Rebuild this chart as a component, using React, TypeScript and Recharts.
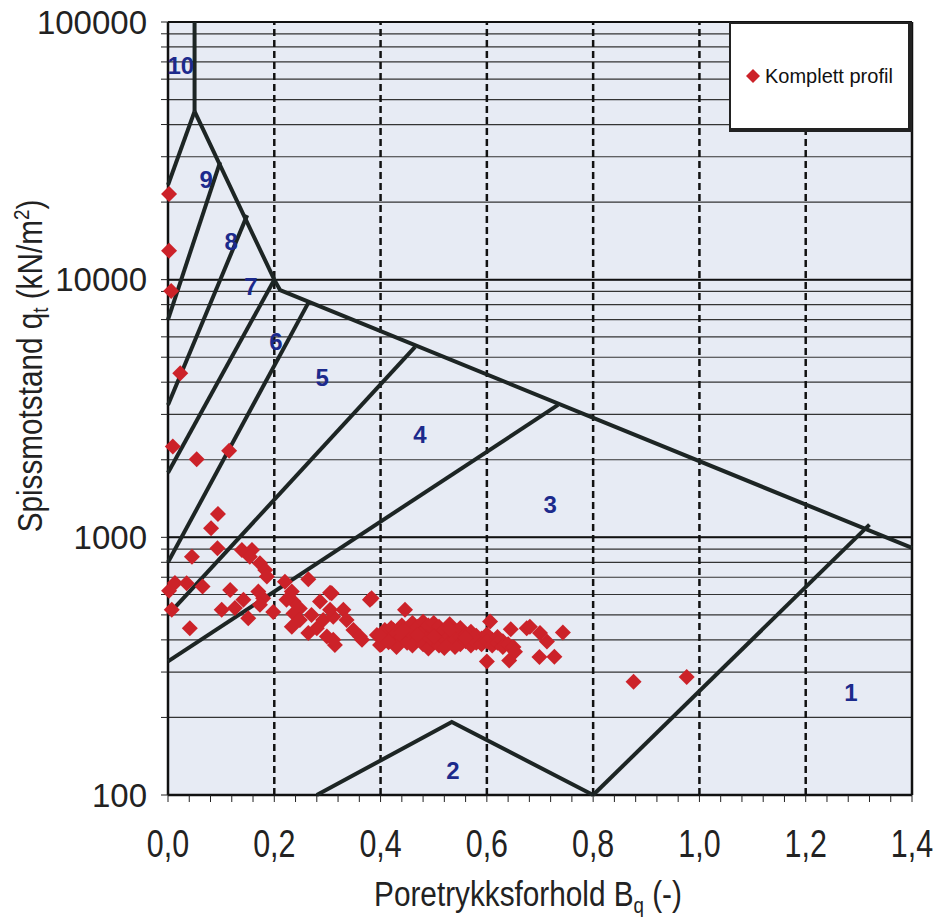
import { ScatterChart, Scatter, XAxis, YAxis, CartesianGrid, ReferenceLine } from "recharts"

// axis ticks
const xTicks = [
  0, 0.04, 0.08, 0.12, 0.16, 0.2, 0.24, 0.28, 0.32, 0.36, 0.4, 0.44, 0.48, 0.52, 0.56, 0.6, 0.64, 0.68,
  0.72, 0.76, 0.8, 0.84, 0.88, 0.92, 0.96, 1.0, 1.04, 1.08, 1.12, 1.16, 1.2, 1.24, 1.28, 1.32, 1.36, 1.4,
]
const xLabelTicks = [0, 0.2, 0.4, 0.6, 0.8, 1.0, 1.2, 1.4]
const xDashed = [0.2, 0.4, 0.6, 0.8, 1.0, 1.2]
const yDecades = [100, 1000, 10000, 100000]
const yMinor = [
  200, 300, 400, 500, 600, 700, 800, 900,
  2000, 3000, 4000, 5000, 6000, 7000, 8000, 9000,
  20000, 30000, 40000, 50000, 60000, 70000, 80000, 90000,
]
const yTicks = [...yDecades, ...yMinor].sort((a, b) => a - b)

// measured points (Bq, qt)
const upperPoints = [
  { x: 0.002, y: 21500 }, { x: 0.002, y: 12960 }, { x: 0.006, y: 9040 }, { x: 0.023, y: 4330 },
  { x: 0.009, y: 2250 }, { x: 0.054, y: 2010 }, { x: 0.115, y: 2170 }, { x: 0.094, y: 1233 },
  { x: 0.081, y: 1085 }, { x: 0.093, y: 907 }, { x: 0.045, y: 841 },
]
const transitionPoints = [
  { x: 0.002, y: 620 }, { x: 0.013, y: 665 }, { x: 0.035, y: 664 }, { x: 0.065, y: 644 },
  { x: 0.007, y: 523 }, { x: 0.041, y: 444 }, { x: 0.117, y: 625 }, { x: 0.101, y: 523 },
  { x: 0.126, y: 532 }, { x: 0.142, y: 572 }, { x: 0.151, y: 485 }, { x: 0.139, y: 893 },
  { x: 0.158, y: 893 }, { x: 0.154, y: 841 }, { x: 0.173, y: 793 }, { x: 0.183, y: 747 },
  { x: 0.186, y: 704 }, { x: 0.17, y: 616 }, { x: 0.179, y: 580 }, { x: 0.173, y: 547 },
  { x: 0.198, y: 513 }, { x: 0.22, y: 673 }, { x: 0.264, y: 688 }, { x: 0.305, y: 610 },
  { x: 0.233, y: 616 }, { x: 0.236, y: 563 }, { x: 0.223, y: 572 }, { x: 0.248, y: 530 },
  { x: 0.286, y: 563 }, { x: 0.236, y: 506 }, { x: 0.248, y: 478 }, { x: 0.233, y: 450 },
  { x: 0.264, y: 425 }, { x: 0.28, y: 444 }, { x: 0.292, y: 478 }, { x: 0.311, y: 492 },
  { x: 0.33, y: 523 }, { x: 0.299, y: 412 }, { x: 0.314, y: 382 }, { x: 0.336, y: 478 },
  { x: 0.349, y: 437 }, { x: 0.27, y: 500 }, { x: 0.305, y: 523 }, { x: 0.308, y: 607 },
  { x: 0.38, y: 572 }, { x: 0.383, y: 580 }, { x: 0.446, y: 523 }, { x: 0.311, y: 400 },
  { x: 0.365, y: 400 }, { x: 0.402, y: 385 }, { x: 0.418, y: 412 }, { x: 0.361, y: 412 },
  { x: 0.393, y: 418 }, { x: 0.399, y: 382 }, { x: 0.424, y: 437 }, { x: 0.408, y: 437 },
]
const clusterPoints = [
  { x: 0.41, y: 430 }, { x: 0.42, y: 410 }, { x: 0.42, y: 445 }, { x: 0.43, y: 395 },
  { x: 0.43, y: 425 }, { x: 0.44, y: 455 }, { x: 0.44, y: 410 }, { x: 0.45, y: 390 },
  { x: 0.45, y: 440 }, { x: 0.46, y: 465 }, { x: 0.46, y: 420 }, { x: 0.46, y: 380 },
  { x: 0.47, y: 400 }, { x: 0.47, y: 450 }, { x: 0.48, y: 470 }, { x: 0.48, y: 430 },
  { x: 0.48, y: 385 }, { x: 0.49, y: 410 }, { x: 0.49, y: 455 }, { x: 0.49, y: 370 },
  { x: 0.5, y: 440 }, { x: 0.5, y: 395 }, { x: 0.5, y: 465 }, { x: 0.51, y: 420 },
  { x: 0.51, y: 380 }, { x: 0.51, y: 450 }, { x: 0.52, y: 405 }, { x: 0.52, y: 435 },
  { x: 0.52, y: 372 }, { x: 0.53, y: 460 }, { x: 0.53, y: 415 }, { x: 0.53, y: 390 },
  { x: 0.54, y: 430 }, { x: 0.54, y: 400 }, { x: 0.54, y: 375 }, { x: 0.55, y: 445 },
  { x: 0.55, y: 410 }, { x: 0.55, y: 385 }, { x: 0.56, y: 420 }, { x: 0.56, y: 395 },
  { x: 0.57, y: 430 }, { x: 0.57, y: 400 }, { x: 0.57, y: 380 }, { x: 0.58, y: 415 },
  { x: 0.58, y: 390 }, { x: 0.59, y: 405 }, { x: 0.59, y: 385 }, { x: 0.6, y: 420 },
  { x: 0.6, y: 395 }, { x: 0.61, y: 400 }, { x: 0.61, y: 380 }, { x: 0.62, y: 410 },
  { x: 0.62, y: 390 }, { x: 0.63, y: 395 }, { x: 0.63, y: 375 }, { x: 0.64, y: 385 },
  { x: 0.65, y: 375 }, { x: 0.44, y: 430 }, { x: 0.47, y: 418 }, { x: 0.5, y: 412 },
  { x: 0.53, y: 440 }, { x: 0.56, y: 408 }, { x: 0.43, y: 375 }, { x: 0.4, y: 415 },
  { x: 0.415, y: 392 },
]
const tailPoints = [
  { x: 0.606, y: 471 }, { x: 0.645, y: 440 }, { x: 0.675, y: 444 }, { x: 0.681, y: 450 },
  { x: 0.7, y: 425 }, { x: 0.713, y: 394 }, { x: 0.743, y: 427 }, { x: 0.6, y: 330 },
  { x: 0.642, y: 333 }, { x: 0.699, y: 343 }, { x: 0.727, y: 344 }, { x: 0.653, y: 360 },
  { x: 0.876, y: 275 }, { x: 0.976, y: 287 },
]
const profile = [...upperPoints, ...transitionPoints, ...clusterPoints, ...tailPoints]

// classification chart boundaries
const zone10Stem = [{ x: 0.05, y: 100000 }, { x: 0.05, y: 45000 }]
const zone10Left = [{ x: 0, y: 23300 }, { x: 0.05, y: 45000 }]
const upperEdge = [{ x: 0.05, y: 45000 }, { x: 0.2, y: 10000 }, { x: 0.211, y: 9100 }, { x: 1.4, y: 910 }]
const line98 = [{ x: 0, y: 7000 }, { x: 0.098, y: 28600 }]
const line87 = [{ x: 0, y: 3260 }, { x: 0.149, y: 17800 }]
const line76 = [{ x: 0, y: 1780 }, { x: 0.2, y: 10000 }]
const line65 = [{ x: 0, y: 800 }, { x: 0.264, y: 8130 }]
const line54 = [{ x: 0, y: 500 }, { x: 0.465, y: 5480 }]
const line43 = [{ x: 0, y: 330 }, { x: 0.734, y: 3265 }]
const line1 = [{ x: 0.8, y: 100 }, { x: 1.32, y: 1120 }]
const line2 = [{ x: 0.28, y: 100 }, { x: 0.534, y: 192 }, { x: 0.8, y: 100 }]
const boundaries = [zone10Stem, zone10Left, upperEdge, line98, line87, line76, line65, line54, line43, line1, line2]

const zoneLabels = [
  { x: 0.024, y: 67500, label: "10" },
  { x: 0.072, y: 24400, label: "9" },
  { x: 0.119, y: 14100, label: "8" },
  { x: 0.156, y: 9380, label: "7" },
  { x: 0.203, y: 5780, label: "6" },
  { x: 0.29, y: 4160, label: "5" },
  { x: 0.474, y: 2500, label: "4" },
  { x: 0.719, y: 1340, label: "3" },
  { x: 0.536, y: 125, label: "2" },
  { x: 1.285, y: 249, label: "1" },
]

const sans = "'Liberation Sans', Arial, sans-serif"

function Diamond(props: any) {
  const { cx, cy } = props
  const r = 8
  return <polygon points={`${cx},${cy - r} ${cx + r},${cy} ${cx},${cy + r} ${cx - r},${cy}`} fill="#cc2229" />
}

function ZoneText(props: any) {
  return (
    <text x={props.cx} y={props.cy} textAnchor="middle" dominantBaseline="central"
      fontSize={24} fontWeight="bold" fill="#1c2a8c" fontFamily={sans}>
      {props.payload.label}
    </text>
  )
}

function XTick(props: any) {
  const { x, y, payload } = props
  if (!xLabelTicks.includes(payload.value)) return <g />
  return (
    <text transform={`translate(${x},${y}) scale(0.8,1)`} textAnchor="middle" dy="0.71em"
      fontSize={38} fill="#222" fontFamily={sans}>
      {payload.value.toFixed(1).replace(".", ",")}
    </text>
  )
}

function YTitle() {
  return (
    <g transform="translate(42, 366) rotate(-90) scale(0.9,1.05)">
      <text x={0} y={0} textAnchor="middle" fontSize={33} fill="#222" fontFamily={sans}>
        Spissmotstand q<tspan fontSize={21} dy={6}>t</tspan>
        <tspan dy={-6}> (kN/m</tspan>
        <tspan fontSize={21} dy={-12}>2</tspan>
        <tspan dy={12}>)</tspan>
      </text>
    </g>
  )
}

function XTitle() {
  return (
    <g transform="translate(528, 906) scale(0.85,1)">
      <text x={0} y={0} textAnchor="middle" fontSize={35} fill="#222" fontFamily={sans}>
        Poretrykksforhold B<tspan fontSize={22} dy={7}>q</tspan>
        <tspan dy={-7}> (-)</tspan>
      </text>
    </g>
  )
}

export default function App() {
  return (
    <div style={{ position: "absolute", left: 0, top: 0, width: 936, height: 917, background: "#fff", fontFamily: sans }}>
      <ScatterChart width={936} height={917} margin={{ top: 22, right: 24, left: 0, bottom: 0 }}>
        <CartesianGrid fill="#e7ebf4" vertical={false} stroke="#333" strokeWidth={1.2} />
        <XAxis
          type="number"
          dataKey="x"
          domain={[0, 1.4]}
          ticks={xTicks}
          interval={0}
          height={122}
          tickSize={7}
          tickMargin={28}
          axisLine={{ stroke: "#111", strokeWidth: 2.5 }}
          tickLine={{ stroke: "#222" }}
          tick={<XTick />}
          label={<XTitle />}
        />
        <YAxis
          type="number"
          dataKey="y"
          scale="log"
          domain={[100, 100000]}
          ticks={yTicks}
          interval={0}
          width={168}
          tickSize={7}
          tickMargin={14}
          axisLine={{ stroke: "#111", strokeWidth: 2.5 }}
          tickLine={{ stroke: "#222" }}
          tick={{ fontSize: 33, fill: "#222", fontFamily: sans }}
          tickFormatter={(v: number) => (yDecades.includes(v) ? String(v) : "")}
          label={<YTitle />}
        />
        {xDashed.map((v) => (
          <ReferenceLine key={`vx-${v}`} x={v} stroke="#111" strokeWidth={2.5} strokeDasharray="7 4" />
        ))}
        {yDecades.slice(1).map((v) => (
          <ReferenceLine key={`hy-${v}`} y={v} stroke="#111" strokeWidth={2} />
        ))}
        <ReferenceLine x={1.4} stroke="#111" strokeWidth={2.5} />
        {boundaries.map((seg, i) => (
          <Scatter
            key={`b-${i}`}
            data={seg}
            line={{ stroke: "#1d2524", strokeWidth: 4 }}
            shape={() => <g />}
            legendType="none"
            isAnimationActive={false}
          />
        ))}
        <Scatter name="Komplett profil" data={profile} shape={<Diamond />} isAnimationActive={false} />
        <Scatter data={zoneLabels} shape={<ZoneText />} legendType="none" isAnimationActive={false} />
      </ScatterChart>
      <div
        style={{
          position: "absolute",
          left: 729,
          top: 22,
          width: 183,
          height: 110,
          background: "#fff",
          borderLeft: "2px solid #222",
          borderTop: "2px solid #222",
          borderRight: "4px solid #222",
          borderBottom: "4px solid #222",
          display: "flex",
          alignItems: "center",
          paddingLeft: 14,
          boxSizing: "border-box",
        }}
      >
        <svg width={16} height={16} style={{ marginRight: 4 }}>
          <polygon points="8,1 15,8 8,15 1,8" fill="#cc2229" />
        </svg>
        <span style={{ fontSize: 20, color: "#111", fontFamily: sans }}>Komplett profil</span>
      </div>
    </div>
  )
}
